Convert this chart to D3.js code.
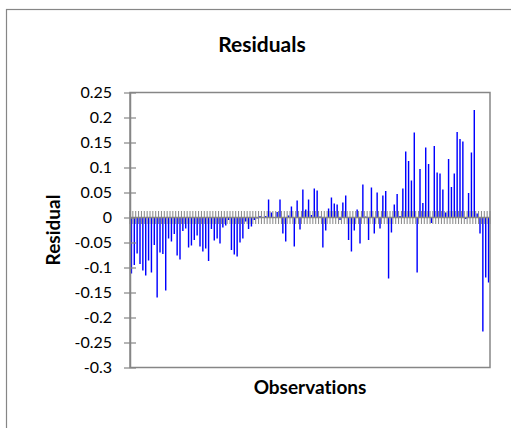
<!DOCTYPE html>
<html>
<head>
<meta charset="utf-8">
<script src="https://cdn.jsdelivr.net/npm/d3@7"></script>
<style>
  html, body { margin: 0; padding: 0; background: #fff; }
  svg { display: block; }
  text { font-family: Lato, "Open Sans", sans-serif; fill: #000; font-variant-ligatures: none; }
</style>
</head>
<body>
<svg id="chart" width="511" height="428"></svg>
<script>
// ---- data ----
const observations = d3.range(1, 127);
const residuals = [
  -0.112, -0.095, -0.072, -0.093, -0.106, -0.116, -0.086, -0.110, -0.055, -0.160,
  -0.070, -0.073, -0.146, -0.042, -0.048, -0.033, -0.076, -0.084, -0.027, -0.022,
  -0.060, -0.056, -0.045, -0.036, -0.058, -0.068, -0.062, -0.087, -0.023, -0.046,
  -0.042, -0.052, -0.020, -0.016, -0.005, -0.065, -0.074, -0.078, -0.050, -0.042,
  -0.008, -0.023, -0.018, -0.005, -0.002, 0.003, 0.001, 0.003, 0.036, 0.010,
  0.001, 0.011, 0.036, -0.032, -0.048, 0.004, 0.022, -0.058, 0.034, -0.024,
  0.056, 0.016, 0.036, 0.005, 0.058, 0.054, 0.002, -0.060, -0.026, 0.018,
  0.040, 0.028, 0.026, -0.005, 0.030, 0.044, -0.045, -0.068, -0.026, 0.016,
  -0.052, 0.066, 0.002, -0.045, 0.060, -0.032, 0.050, -0.022, 0.044, 0.053,
  -0.122, -0.030, 0.026, 0.047, 0.003, 0.058, 0.132, 0.113, 0.074, 0.170,
  -0.110, 0.097, 0.029, 0.140, 0.107, -0.011, 0.143, 0.090, 0.088, 0.056,
  0.010, 0.117, 0.061, 0.088, 0.171, 0.157, 0.152, -0.003, 0.049, 0.130,
  0.215, 0.008, -0.032, -0.228, -0.120, -0.130
];
const yTicks = [0.25, 0.2, 0.15, 0.1, 0.05, 0, -0.05, -0.1, -0.15, -0.2, -0.25, -0.3];
const yTickLabels = ["0.25", "0.2", "0.15", "0.1", "0.05", "0", "-0.05", "-0.1", "-0.15", "-0.2", "-0.25", "-0.3"];
const chartTitle = "Residuals";
const xTitle = "Observations";
const yTitle = "Residual";

// ---- layout ----
const svg = d3.select("#chart");
const L = 130, R = 490, T = 92.5, B = 367.5;
const grey = "#868686";

svg.append("rect").attr("x", 0).attr("y", 0).attr("width", 511).attr("height", 428).attr("fill", "#fff");
// outer chart frame (partially visible)
svg.append("rect").attr("x", 6.5).attr("y", 9.5).attr("width", 540).attr("height", 460)
  .attr("fill", "none").attr("stroke", grey).attr("stroke-width", 1.2);

const y = d3.scaleLinear().domain([-0.3, 0.25]).range([B, T]);
const x = d3.scaleBand().domain(observations).range([L, R]).paddingInner(0.5).paddingOuter(0.25);
const step = x.step();

// bars
svg.append("g").selectAll("rect").data(observations).join("rect")
  .attr("x", d => x(d))
  .attr("width", x.bandwidth())
  .attr("y", (d, i) => y(Math.max(0, residuals[i])))
  .attr("height", (d, i) => Math.abs(y(residuals[i]) - y(0)))
  .attr("fill", "#0000ff");

// plot area border
svg.append("rect").attr("x", L).attr("y", T).attr("width", R - L).attr("height", B - T)
  .attr("fill", "none").attr("stroke", grey).attr("stroke-width", 1.5);

// category axis at zero with crossing tick marks between categories
const boundaries = observations.map(d => x(d) - (step - x.bandwidth()) / 2).concat([R]);
const xg = svg.append("g");
xg.selectAll("line.tk").data(boundaries).join("line").attr("class", "tk")
  .attr("x1", d => d).attr("x2", d => d)
  .attr("y1", y(0) - 6.5).attr("y2", y(0) + 6.5)
  .attr("stroke", grey).attr("stroke-width", 1);
xg.append("line").attr("x1", L).attr("x2", R).attr("y1", y(0)).attr("y2", y(0))
  .attr("stroke", grey).attr("stroke-width", 1.4);

// value axis
const yAxis = d3.axisLeft(y).tickValues(yTicks)
  .tickFormat((d, i) => yTickLabels[i]).tickSizeInner(6).tickSizeOuter(0).tickPadding(12);
const yg = svg.append("g").attr("transform", `translate(${L},0)`).call(yAxis);
yg.select(".domain").attr("stroke", grey).attr("stroke-width", 1.5);
yg.selectAll(".tick line").attr("x1", 6).attr("x2", -6).attr("stroke", grey).attr("stroke-width", 1.2);
yg.selectAll(".tick text").attr("font-size", 16).attr("font-family", "Lato, sans-serif").attr("fill", "#000");

// titles
svg.append("text").attr("x", 262).attr("y", 52).attr("text-anchor", "middle")
  .attr("font-size", 21).attr("font-weight", "bold").text(chartTitle);
svg.append("text").attr("x", (L + R) / 2).attr("y", 394).attr("text-anchor", "middle")
  .attr("font-size", 19).attr("font-weight", "bold").text(xTitle);
svg.append("text").attr("transform", `translate(60,${(T + B) / 2}) rotate(-90)`).attr("text-anchor", "middle")
  .attr("font-size", 19).attr("font-weight", "bold").text(yTitle);
</script>
</body>
</html>
